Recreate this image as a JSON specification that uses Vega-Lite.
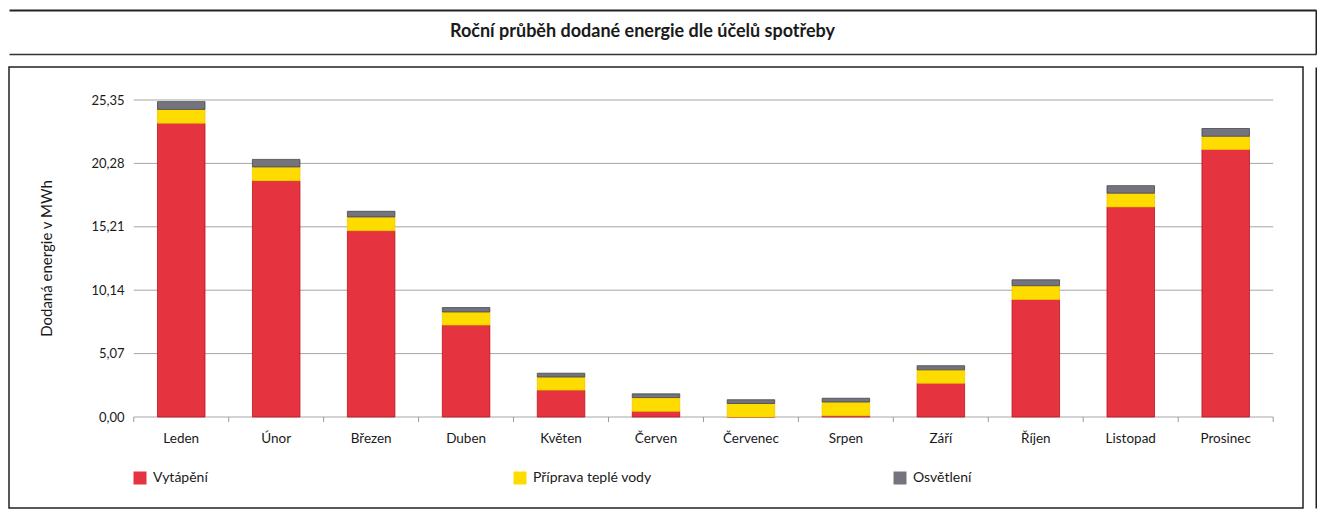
{
  "$schema": "https://vega.github.io/schema/vega-lite/v6.json",
  "padding": {"left": 8, "top": 10, "right": 0, "bottom": 0},
  "background": "white",
  "spacing": 12,
  "config": {
    "font": "Lato",
    "view": {"stroke": null}
  },
  "datasets": {
    "energie": [
      {"mesic": "Leden", "ucel": "Vytápění", "poradi": 1, "mwh": 23.5},
      {"mesic": "Leden", "ucel": "Příprava teplé vody", "poradi": 2, "mwh": 1.1},
      {"mesic": "Leden", "ucel": "Osvětlení", "poradi": 3, "mwh": 0.62},
      {"mesic": "Únor", "ucel": "Vytápění", "poradi": 1, "mwh": 18.9},
      {"mesic": "Únor", "ucel": "Příprava teplé vody", "poradi": 2, "mwh": 1.1},
      {"mesic": "Únor", "ucel": "Osvětlení", "poradi": 3, "mwh": 0.6},
      {"mesic": "Březen", "ucel": "Vytápění", "poradi": 1, "mwh": 14.9},
      {"mesic": "Březen", "ucel": "Příprava teplé vody", "poradi": 2, "mwh": 1.1},
      {"mesic": "Březen", "ucel": "Osvětlení", "poradi": 3, "mwh": 0.45},
      {"mesic": "Duben", "ucel": "Vytápění", "poradi": 1, "mwh": 7.35},
      {"mesic": "Duben", "ucel": "Příprava teplé vody", "poradi": 2, "mwh": 1.05},
      {"mesic": "Duben", "ucel": "Osvětlení", "poradi": 3, "mwh": 0.35},
      {"mesic": "Květen", "ucel": "Vytápění", "poradi": 1, "mwh": 2.15},
      {"mesic": "Květen", "ucel": "Příprava teplé vody", "poradi": 2, "mwh": 1.05},
      {"mesic": "Květen", "ucel": "Osvětlení", "poradi": 3, "mwh": 0.3},
      {"mesic": "Červen", "ucel": "Vytápění", "poradi": 1, "mwh": 0.45},
      {"mesic": "Červen", "ucel": "Příprava teplé vody", "poradi": 2, "mwh": 1.1},
      {"mesic": "Červen", "ucel": "Osvětlení", "poradi": 3, "mwh": 0.3},
      {"mesic": "Červenec", "ucel": "Vytápění", "poradi": 1, "mwh": 0.0},
      {"mesic": "Červenec", "ucel": "Příprava teplé vody", "poradi": 2, "mwh": 1.08},
      {"mesic": "Červenec", "ucel": "Osvětlení", "poradi": 3, "mwh": 0.3},
      {"mesic": "Srpen", "ucel": "Vytápění", "poradi": 1, "mwh": 0.1},
      {"mesic": "Srpen", "ucel": "Příprava teplé vody", "poradi": 2, "mwh": 1.1},
      {"mesic": "Srpen", "ucel": "Osvětlení", "poradi": 3, "mwh": 0.3},
      {"mesic": "Září", "ucel": "Vytápění", "poradi": 1, "mwh": 2.7},
      {"mesic": "Září", "ucel": "Příprava teplé vody", "poradi": 2, "mwh": 1.07},
      {"mesic": "Září", "ucel": "Osvětlení", "poradi": 3, "mwh": 0.33},
      {"mesic": "Říjen", "ucel": "Vytápění", "poradi": 1, "mwh": 9.4},
      {"mesic": "Říjen", "ucel": "Příprava teplé vody", "poradi": 2, "mwh": 1.1},
      {"mesic": "Říjen", "ucel": "Osvětlení", "poradi": 3, "mwh": 0.47},
      {"mesic": "Listopad", "ucel": "Vytápění", "poradi": 1, "mwh": 16.8},
      {"mesic": "Listopad", "ucel": "Příprava teplé vody", "poradi": 2, "mwh": 1.1},
      {"mesic": "Listopad", "ucel": "Osvětlení", "poradi": 3, "mwh": 0.6},
      {"mesic": "Prosinec", "ucel": "Vytápění", "poradi": 1, "mwh": 21.4},
      {"mesic": "Prosinec", "ucel": "Příprava teplé vody", "poradi": 2, "mwh": 1.05},
      {"mesic": "Prosinec", "ucel": "Osvětlení", "poradi": 3, "mwh": 0.62}
    ],
    "mrizka": [
      {"v": 0}, {"v": 5.07}, {"v": 10.14}, {"v": 15.21}, {"v": 20.28}, {"v": 25.35}
    ],
    "mesice": [
      {"mesic": "Leden"}, {"mesic": "Únor"}, {"mesic": "Březen"}, {"mesic": "Duben"},
      {"mesic": "Květen"}, {"mesic": "Červen"}, {"mesic": "Červenec"}, {"mesic": "Srpen"},
      {"mesic": "Září"}, {"mesic": "Říjen"}, {"mesic": "Listopad"}, {"mesic": "Prosinec"}
    ],
    "nadpis": [
      {"nazev": "Roční průběh dodané energie dle účelů spotřeby"}
    ]
  },
  "vconcat": [
    {
      "width": 1307,
      "height": 44,
      "data": {"name": "nadpis"},
      "layer": [
        {
          "mark": {"type": "text", "fontSize": 18, "fontWeight": "bold", "color": "#1a1a1a", "dx": -20},
          "encoding": {
            "text": {"field": "nazev"},
            "x": {"datum": 0.5, "type": "quantitative", "scale": {"domain": [0, 1]},
                  "axis": {"orient": "top", "domain": true, "domainWidth": 2, "domainColor": "#222222", "ticks": false, "labels": false, "grid": false, "title": null}},
            "y": {"datum": 0.5, "type": "quantitative", "scale": {"domain": [0, 1]},
                  "axis": {"orient": "right", "domain": true, "domainWidth": 2, "domainColor": "#222222", "ticks": false, "labels": false, "grid": false, "title": null}}
          }
        },
        {
          "mark": {"type": "text", "text": ""},
          "encoding": {
            "x": {"datum": 0.5, "type": "quantitative", "scale": {"domain": [0, 1]},
                  "axis": {"orient": "bottom", "domain": true, "domainWidth": 1.5, "domainColor": "#333333", "ticks": false, "labels": false, "grid": false, "title": null}},
            "y": {"datum": 0.5, "type": "quantitative", "scale": {"domain": [0, 1]}, "axis": null}
          }
        }
      ],
      "resolve": {"axis": {"x": "independent", "y": "independent"}}
    },
    {
      "width": 1294,
      "height": 441,
      "view": {"stroke": "#222222", "strokeWidth": 1.5},
      "layer": [
        {
          "data": {"name": "mrizka"},
          "mark": {"type": "rule", "color": "#a6a6a6", "strokeWidth": 1},
          "encoding": {
            "y": {"field": "v", "type": "quantitative",
                  "scale": {"domain": [-7.277, 27.989], "nice": false, "zero": false},
                  "axis": {"orient": "right", "offset": 13, "domain": true, "domainWidth": 2, "domainColor": "#222222", "ticks": false, "labels": false, "grid": false, "title": null}},
            "x": {"datum": "Leden", "type": "nominal", "bandPosition": -0.2966, "axis": null},
            "x2": {"datum": "Prosinec", "bandPosition": 1.2966}
          }
        },
        {
          "data": {"name": "mesice"},
          "mark": {"type": "rule", "color": "#9a9a9a", "strokeWidth": 1},
          "encoding": {
            "x": {"field": "mesic", "type": "nominal", "bandPosition": -0.2966, "axis": null},
            "y": {"datum": 0, "type": "quantitative", "axis": null},
            "y2": {"datum": -0.4}
          }
        },
        {
          "data": {"name": "nadpis"},
          "mark": {"type": "rule", "color": "#9a9a9a", "strokeWidth": 1},
          "encoding": {
            "x": {"datum": "Prosinec", "type": "nominal", "bandPosition": 1.2966, "axis": null},
            "y": {"datum": 0, "type": "quantitative", "axis": null},
            "y2": {"datum": -0.4}
          }
        },
        {
          "data": {"name": "energie"},
          "mark": {"type": "bar", "strokeWidth": 0.8, "width": {"band": 0.797}},
          "encoding": {
            "x": {"field": "mesic", "type": "nominal", "sort": null,
                  "scale": {"domain": ["Leden", "Únor", "Březen", "Duben", "Květen", "Červen", "Červenec", "Srpen", "Září", "Říjen", "Listopad", "Prosinec"],
                            "paddingInner": 0.372, "paddingOuter": 1, "align": 0.75},
                  "axis": {"orient": "bottom", "offset": -91, "domain": false, "ticks": false,
                           "labelPadding": 14, "labelFontSize": 13.5, "labelColor": "#1a1a1a", "labelAngle": 0, "title": null, "grid": false}},
            "y": {"field": "mwh", "type": "quantitative", "stack": "zero",
                  "scale": {"domain": [-7.277, 27.989], "nice": false, "zero": false},
                  "axis": {"orient": "left", "offset": -125, "values": [0, 5.07, 10.14, 15.21, 20.28, 25.35],
                           "labelExpr": "replace(format(datum.value, '.2f'), '.', ',')",
                           "domain": false, "ticks": false, "grid": false, "labelPadding": 10, "labelFontSize": 13, "labelColor": "#1a1a1a",
                           "title": "Dodaná energie v MWh", "titleFontSize": 15, "titleFontWeight": "normal", "titleColor": "#1a1a1a",
                           "titleX": -88, "titleY": 191, "titleBaseline": "middle", "titleAngle": -90}},
            "color": {"field": "ucel", "type": "nominal",
                      "scale": {"domain": ["Vytápění", "Příprava teplé vody", "Osvětlení"], "range": ["#e5333f", "#ffdc00", "#74747e"]},
                      "legend": {"orient": "none", "legendX": 124, "legendY": 461, "direction": "horizontal", "columns": 3, "title": null,
                                 "symbolType": "square", "symbolSize": 169, "symbolStrokeWidth": 0, "labelFontSize": 14, "labelColor": "#1a1a1a",
                                 "labelOffset": 6, "gridAlign": "all", "columnPadding": 241}},
            "stroke": {"field": "ucel", "type": "nominal",
                       "scale": {"domain": ["Vytápění", "Příprava teplé vody", "Osvětlení"], "range": ["#b81420", "#f2c800", "#45454d"]},
                       "legend": null},
            "order": {"field": "poradi", "type": "quantitative"}
          }
        }
      ],
      "resolve": {"axis": {"x": "independent", "y": "independent"}}
    }
  ]
}
